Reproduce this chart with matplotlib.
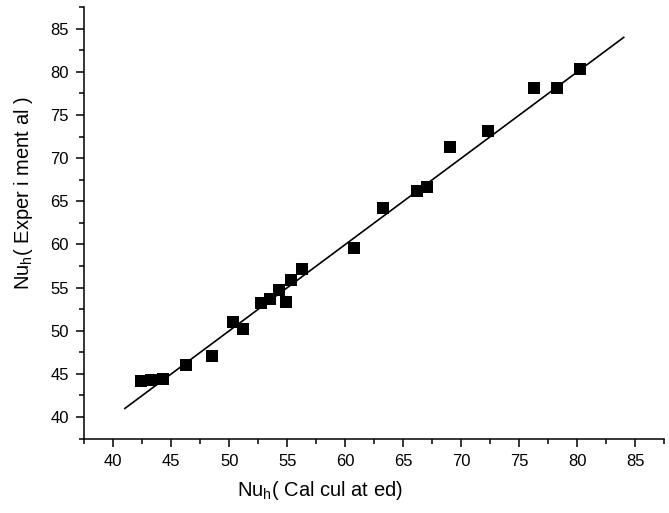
"""Nu_h 实验值与计算值对比散点图。"""

import matplotlib

matplotlib.use("Agg")  # 无显示环境，使用 Agg 后端

import matplotlib.pyplot as plt  # 导入 pyplot 绘图
from matplotlib.ticker import MultipleLocator  # 刻度间隔控制

nu_calculated = [42.4, 43.25, 44.3, 46.25, 48.5, 50.3, 51.2, 52.75, 53.5, 54.3, 54.85,
                 55.35, 56.25, 60.75, 63.25, 66.2, 67.05, 69.05, 72.3, 76.25, 78.25, 80.25]
nu_experimental = [44.2, 44.3, 44.45, 46.0, 47.1, 51.0, 50.15, 53.25, 53.65, 54.75, 53.3,
                   55.9, 57.2, 59.6, 64.2, 66.2, 66.65, 71.3, 73.2, 78.15, 78.15, 80.3]

# y = x 参考线的两端
fit_x = [41, 84]
fit_y = [41, 84]

plt.rcParams["font.family"] = ["Liberation Sans", "DejaVu Sans"]
plt.rcParams["mathtext.fontset"] = "custom"
plt.rcParams["mathtext.rm"] = "Liberation Sans"

fig = plt.figure(figsize=(6.69, 5.13), dpi=100)
axes = fig.add_axes([0.126, 0.145, 0.867, 0.841])

axes.plot(fit_x, fit_y, color="black", linewidth=1.2)  # 参考线
axes.scatter(nu_calculated, nu_experimental, marker="s", s=66, color="black",
             linewidths=0, zorder=3)  # 数据点

axes.set_xlim(37.5, 87.5)
axes.set_ylim(37.5, 87.5)

# 主刻度 5，次刻度 2.5，朝外
for axis in (axes.xaxis, axes.yaxis):
    axis.set_major_locator(MultipleLocator(5))
    axis.set_minor_locator(MultipleLocator(2.5))
axes.tick_params(which="major", direction="out", length=6, width=1.1, labelsize=12, pad=5)
axes.tick_params(which="minor", direction="out", length=3.5, width=1.1)

# 只保留左、下边框
axes.spines["top"].set_visible(False)
axes.spines["right"].set_visible(False)
axes.spines["left"].set_linewidth(1.1)
axes.spines["bottom"].set_linewidth(1.1)

# 坐标轴标题
fig.text(320 / 669, 1 - 491 / 513, r"Nu$_\mathregular{h}$( Cal cul at ed)",
         ha="center", va="center", fontsize=14.5)
fig.text(24 / 669, 1 - 193 / 513, r"Nu$_\mathregular{h}$( Exper i ment al )",
         ha="center", va="center", rotation=90, fontsize=14.5)

fig.savefig("out.png", dpi=100)
